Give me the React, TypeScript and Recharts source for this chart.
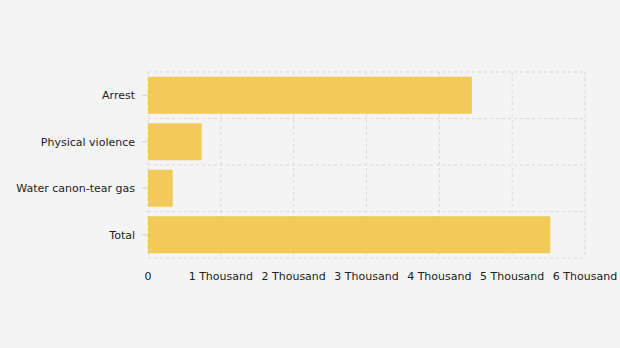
import React from "react";
import { BarChart, Bar, XAxis, YAxis, CartesianGrid } from "recharts";

const categories = ["Arrest", "Physical violence", "Water canon-tear gas", "Total"];
const values = [4446, 737, 340, 5523];
const xTicks = [0, 1000, 2000, 3000, 4000, 5000, 6000];

const data = categories.map((name, i) => ({ name, value: values[i] }));

const fmt = (v: number) => (v === 0 ? "0" : `${v / 1000} Thousand`);

const hGen = (props: any) => {
  const { offset } = props;
  const n = categories.length;
  const out: number[] = [];
  for (let i = 0; i <= n; i++) out.push(offset.top + (offset.height * i) / n);
  return out;
};

export default function App() {
  return (
    <div
      style={{
        position: "absolute",
        left: 0,
        top: 0,
        width: 620,
        height: 348,
        background: "#f4f4f4",
        fontFamily: "'DejaVu Sans', sans-serif",
      }}
    >
      <BarChart
        width={620}
        height={348}
        data={data}
        layout="vertical"
        margin={{ top: 72, right: 35, bottom: 60, left: 0 }}
        barCategoryGap="10%"
      >
        <CartesianGrid
          stroke="#d8d8d8"
          strokeDasharray="3 3"
          horizontalCoordinatesGenerator={hGen}
        />
        <XAxis
          type="number"
          domain={[0, 6000]}
          ticks={xTicks}
          tickFormatter={fmt}
          axisLine={false}
          tickLine={false}
          tickSize={0}
          tickMargin={14}
          tick={{ fill: "#222", fontSize: 11, fontFamily: "'DejaVu Sans', sans-serif" }}
          interval={0}
        />
        <YAxis
          type="category"
          dataKey="name"
          width={148}
          axisLine={false}
          tickLine={{ stroke: "#d0d0d0" }}
          tickSize={6}
          tickMargin={7}
          tick={{ fill: "#222", fontSize: 11, fontFamily: "'DejaVu Sans', sans-serif" }}
          interval={0}
        />
        <Bar dataKey="value" fill="#f0c54c" fillOpacity={0.92} isAnimationActive={false} />
      </BarChart>
    </div>
  );
}
